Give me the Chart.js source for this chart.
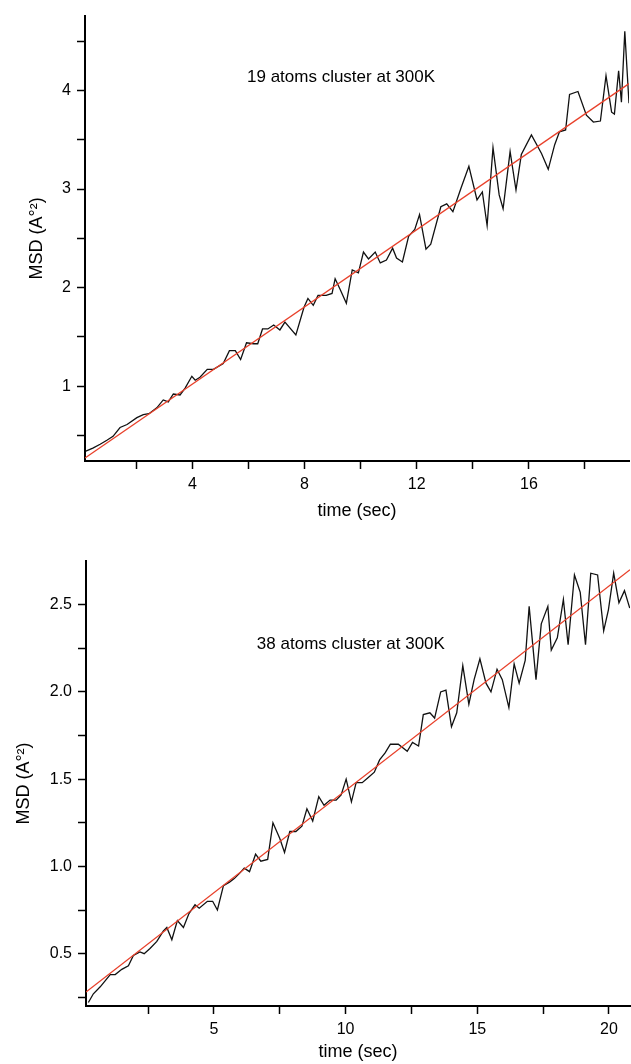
<!DOCTYPE html>
<html>
<head>
<meta charset="utf-8">
<script src="https://cdn.jsdelivr.net/npm/chart.js@4/dist/chart.umd.min.js"></script>
<style>
  html, body { margin: 0; padding: 0; background: #fff; }
  #wrapTop, #wrapBot { position: absolute; left: 0; width: 631px; height: 532px; }
  #wrapTop { top: 0; }
  #wrapBot { top: 532px; }
</style>
</head>
<body>
<div id="wrapTop"><canvas id="cTop"></canvas></div>
<div id="wrapBot"><canvas id="cBot"></canvas></div>
<script>
// ---------- DATA: 19 atoms cluster ----------
const topTime = [0.20,0.45,0.71,0.95,1.17,1.42,1.67,2.02,2.25,2.45,2.73,2.96,3.14,3.32,3.56,3.74,3.98,4.10,4.27,4.53,4.75,5.10,5.32,5.53,5.72,5.93,6.18,6.33,6.50,6.69,6.90,7.12,7.30,7.69,7.98,8.12,8.31,8.48,8.77,8.98,9.09,9.27,9.49,9.70,9.92,10.10,10.28,10.52,10.70,10.92,11.14,11.28,11.49,11.71,11.93,12.10,12.33,12.50,12.86,13.07,13.29,13.58,13.86,14.15,14.34,14.51,14.72,14.94,15.08,15.33,15.54,15.73,16.09,16.45,16.69,16.92,17.09,17.31,17.45,17.75,18.05,18.30,18.55,18.75,18.95,19.05,19.20,19.30,19.42,19.57];
const topMSD  = [0.34,0.37,0.41,0.45,0.49,0.58,0.61,0.68,0.71,0.72,0.78,0.86,0.84,0.92,0.91,0.98,1.10,1.06,1.09,1.17,1.17,1.23,1.36,1.36,1.27,1.44,1.43,1.43,1.58,1.58,1.62,1.57,1.65,1.52,1.80,1.89,1.82,1.92,1.92,1.94,2.09,1.98,1.84,2.18,2.15,2.36,2.29,2.36,2.25,2.28,2.40,2.30,2.26,2.52,2.59,2.74,2.39,2.44,2.82,2.85,2.77,3.01,3.23,2.89,2.97,2.63,3.42,2.94,2.80,3.38,2.99,3.35,3.55,3.36,3.20,3.45,3.58,3.60,3.96,3.99,3.75,3.68,3.69,4.15,3.78,3.76,4.20,3.88,4.60,3.87];
const topFitTime = [0.17, 19.57];
const topFitMSD  = [0.27, 4.07];
const topXMajor = [4, 8, 12, 16];
const topXMinor = [2, 6, 10, 14, 18];
const topYMajor = [1, 2, 3, 4];
const topYMinor = [0.5, 1.5, 2.5, 3.5, 4.5];

// ---------- DATA: 38 atoms cluster ----------
const botTime = [0.23,0.42,0.68,1.06,1.25,1.50,1.75,1.94,2.19,2.35,2.57,2.83,3.08,3.21,3.40,3.61,3.84,4.05,4.28,4.44,4.75,4.95,5.13,5.36,5.59,5.77,5.97,6.15,6.35,6.58,6.78,7.04,7.24,7.50,7.68,7.88,8.11,8.34,8.53,8.75,8.98,9.18,9.41,9.64,9.83,10.02,10.22,10.40,10.63,10.86,11.09,11.29,11.50,11.70,12.00,12.34,12.54,12.77,12.95,13.20,13.38,13.61,13.81,14.02,14.22,14.45,14.68,14.88,15.10,15.33,15.52,15.75,15.95,16.20,16.40,16.59,16.82,16.97,17.23,17.43,17.68,17.81,18.04,18.27,18.45,18.69,18.91,19.11,19.31,19.57,19.80,19.98,20.18,20.38,20.59,20.79];
const botMSD  = [0.22,0.27,0.31,0.38,0.38,0.41,0.43,0.49,0.51,0.50,0.53,0.57,0.63,0.65,0.58,0.69,0.65,0.73,0.78,0.76,0.80,0.80,0.75,0.89,0.91,0.93,0.96,0.99,0.97,1.07,1.03,1.04,1.25,1.16,1.08,1.20,1.20,1.23,1.33,1.26,1.40,1.35,1.38,1.38,1.41,1.50,1.37,1.48,1.48,1.51,1.54,1.61,1.65,1.70,1.70,1.66,1.71,1.69,1.87,1.88,1.85,2.00,2.01,1.80,1.88,2.15,1.93,2.07,2.19,2.05,2.00,2.13,2.07,1.91,2.16,2.05,2.18,2.49,2.07,2.39,2.49,2.24,2.31,2.53,2.27,2.67,2.57,2.27,2.68,2.67,2.35,2.47,2.68,2.51,2.58,2.48];
const botFitTime = [0.14, 20.8];
const botFitMSD  = [0.28, 2.70];
const botXMajor = [5, 10, 15, 20];
const botXMinor = [2.5, 7.5, 12.5, 17.5];
const botYMajor = [0.5, 1.0, 1.5, 2.0, 2.5];
const botYMinor = [0.25, 0.75, 1.25, 1.75, 2.25];

const topLabel = '19 atoms cluster at 300K';
const botLabel = '38 atoms cluster at 300K';
const xTitle = 'time (sec)';
const yTitle = 'MSD (A\u00B0\u00B2)';

// ---------- helpers ----------
const FONT = "'Liberation Sans', Arial, sans-serif";
Chart.defaults.font.family = FONT;
Chart.defaults.color = '#000';

const pts = (xs, ys) => xs.map((x, i) => ({ x: x, y: ys[i] }));

const annotPlugin = {
  id: 'annot',
  afterDatasetsDraw(chart, args, opts) {
    const { ctx, scales } = chart;
    ctx.save();
    ctx.font = opts.size + 'px ' + FONT;
    ctx.fillStyle = '#000';
    ctx.textAlign = 'center';
    ctx.textBaseline = 'middle';
    ctx.fillText(opts.text, scales.x.getPixelForValue(opts.x), scales.y.getPixelForValue(opts.y));
    ctx.restore();
  }
};

function axis(major, minor, fmt, extra) {
  const all = major.concat(minor).sort((a, b) => a - b);
  return Object.assign({
    type: 'linear',
    afterBuildTicks: (s) => { s.ticks = all.map(v => ({ value: v })); },
    ticks: {
      autoSkip: false, maxRotation: 0, minRotation: 0,
      font: { size: 16 }, color: '#000', padding: 6,
      callback: (v) => major.some(m => Math.abs(m - v) < 1e-9) ? fmt(v) : ''
    },
    grid: { display: true, drawOnChartArea: false, drawTicks: true, tickLength: 8, tickColor: '#000', tickWidth: 1.5 },
    border: { display: true, color: '#000', width: 2 }
  }, extra);
}

function makeChart(id, cfg) {
  return new Chart(document.getElementById(id), {
    type: 'scatter',
    data: {
      datasets: [
        { data: pts(cfg.fitT, cfg.fitV), showLine: true, borderColor: '#e8402a', borderWidth: 1.3, pointRadius: 0, order: 0 },
        { data: pts(cfg.t, cfg.v), showLine: true, borderColor: '#111', borderWidth: 1.3, pointRadius: 0, tension: 0, order: 1 }
      ]
    },
    options: {
      responsive: true, maintainAspectRatio: false, animation: false,
      layout: { padding: cfg.pad },
      plugins: { legend: { display: false }, tooltip: { enabled: false },
        annot: { text: cfg.label, x: cfg.lx, y: cfg.ly, size: 17 } },
      scales: {
        x: axis(cfg.xMajor, cfg.xMinor, cfg.xFmt, {
          position: 'bottom', min: cfg.xmin, max: cfg.xmax,
          title: { display: true, text: xTitle, font: { size: 18 }, color: '#000', padding: { top: 0, bottom: cfg.xTitlePad } },
          afterFit: (s) => { s.height = cfg.xh; }
        }),
        y: axis(cfg.yMajor, cfg.yMinor, cfg.yFmt, {
          position: 'left', min: cfg.ymin, max: cfg.ymax,
          title: { display: true, text: yTitle, font: { size: 18 }, color: '#000', padding: { top: cfg.yTitlePad, bottom: 0 } },
          afterFit: (s) => { s.width = cfg.yw; }
        })
      }
    },
    plugins: [annotPlugin]
  });
}

makeChart('cTop', {
  t: topTime, v: topMSD, fitT: topFitTime, fitV: topFitMSD,
  xMajor: topXMajor, xMinor: topXMinor, yMajor: topYMajor, yMinor: topYMinor,
  xFmt: v => String(v), yFmt: v => String(v),
  xmin: 0.17, xmax: 19.57, ymin: 0.24, ymax: 4.76,
  pad: { top: 14, right: 2, left: 0, bottom: 0 }, xh: 71, yw: 85,
  xTitlePad: 10, yTitlePad: 26,
  label: topLabel, lx: 9.3, ly: 4.13
});

makeChart('cBot', {
  t: botTime, v: botMSD, fitT: botFitTime, fitV: botFitMSD,
  xMajor: botXMajor, xMinor: botXMinor, yMajor: botYMajor, yMinor: botYMinor,
  xFmt: v => String(v), yFmt: v => v.toFixed(1),
  xmin: 0.14, xmax: 20.8, ymin: 0.20, ymax: 2.75,
  pad: { top: 29, right: 1, left: 0, bottom: 0 }, xh: 58, yw: 86,
  xTitlePad: 1, yTitlePad: 13,
  label: botLabel, lx: 10.2, ly: 2.27
});
</script>
</body>
</html>
